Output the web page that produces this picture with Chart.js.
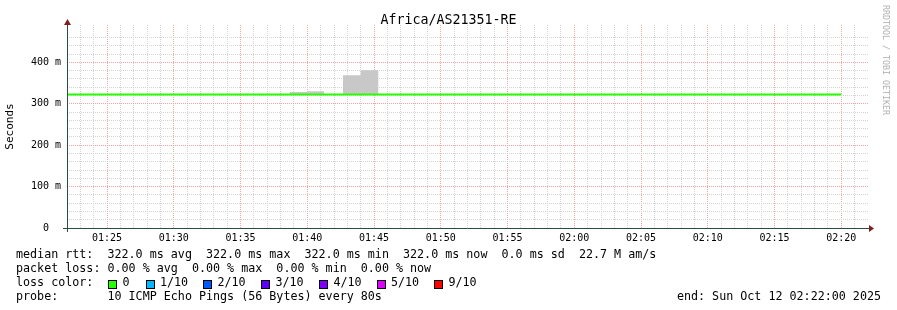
<!DOCTYPE html>
<html>
<head>
<meta charset="utf-8">
<script src="https://cdn.jsdelivr.net/npm/chart.js@4"></script>
<style>
  html, body { margin: 0; padding: 0; background: #fff; }
  #wrap { position: relative; width: 897px; height: 310px; overflow: hidden; background: #fff; }
  #c { position: absolute; left: 0; top: 0; }
  .t { position: absolute; font-family: "DejaVu Sans Mono", monospace; white-space: pre; color: #000; }
  .title { font-size: 13.3px; line-height: 16px; top: 12px; left: 0; width: 897px; text-align: center; }
  .foot { font-size: 11.7px; line-height: 14px; left: 16px; }
  .box { position: absolute; width: 7px; height: 7px; border: 1px solid #000; }
  .wm { position: absolute; font-family: "DejaVu Sans Mono", monospace; font-size: 8.3px; line-height: 10px; color: #b0b0b0;
        left: 886px; top: 60px; white-space: pre; transform: translate(-50%, -50%) rotate(90deg); }
</style>
</head>
<body>
<div id="wrap">
  <canvas id="c" width="897" height="310"></canvas>
  <div class="t title">Africa/AS21351-RE</div>
  <div class="wm">RRDTOOL / TOBI OETIKER</div>
  <div class="t foot" style="top:247px">median rtt:  322.0 ms avg  322.0 ms max  322.0 ms min  322.0 ms now  0.0 ms sd  22.7 M am/s</div>
  <div class="t foot" style="top:261px">packet loss: 0.00 % avg  0.00 % max  0.00 % min  0.00 % now</div>
  <div class="t foot" style="top:275px">loss color:</div>
  <div id="losslegend"></div>
  <div class="t foot" style="top:289px">probe:       10 ICMP Echo Pings (56 Bytes) every 80s</div>
  <div class="t foot" style="top:289px; left:auto; right:16px">end: Sun Oct 12 02:22:00 2025</div>
</div>
<script>
// ---- data ----
const axisStart = '01:22:00';
const axisEnd = '02:22:00';
const medianTimes = ['01:22:00', '02:20:00'];
const medianValues = [322, 322];           // ms
const smokeTimes = ['01:38:40', '01:40:00', '01:41:15', null, '01:42:40', '01:44:00', '01:45:20'];
const smokeTops = [328, 330, 330, null, 369, 381, 381];  // ms
const smokeBase = 322;                      // ms
const yTickLabels = ['0  ', '100 m', '200 m', '300 m', '400 m'];
const lossLabels = ['0', '1/10', '2/10', '3/10', '4/10', '5/10', '9/10'];
const lossColors = ['#26ff00', '#00b8ff', '#0059ff', '#5e00ff', '#7e00ff', '#dd00ff', '#ff0000'];

// ---- helpers ----
function toSec(t) { const p = t.split(':').map(Number); return p[0] * 3600 + p[1] * 60 + p[2]; }
const t0 = toSec(axisStart);
function toMin(t) { return (toSec(t) - t0) / 60; }
function fmt(m) {
  const s = t0 + Math.round(m * 60);
  const h = Math.floor(s / 3600), mi = Math.floor((s % 3600) / 60);
  return String(h).padStart(2, '0') + ':' + String(mi).padStart(2, '0');
}

// loss legend (HTML)
const boxX = [108, 145.5, 203, 261, 319, 376.5, 434];
const ll = document.getElementById('losslegend');
lossLabels.forEach((lab, i) => {
  const b = document.createElement('div');
  b.className = 'box';
  b.style.left = boxX[i] + 'px'; b.style.top = '280px'; b.style.background = lossColors[i];
  ll.appendChild(b);
  const tx = document.createElement('div');
  tx.className = 't foot';
  tx.style.left = (boxX[i] + 14.5) + 'px'; tx.style.top = '275px';
  tx.textContent = lab;
  ll.appendChild(tx);
});

const medianData = medianTimes.map((t, i) => ({ x: toMin(t), y: medianValues[i] }));
const smokeData = smokeTimes.map((t, i) => t === null ? { x: NaN, y: null } : { x: toMin(t), y: smokeTops[i] });

const MINOR = 'rgb(212,212,212)';
const MAJOR = 'rgb(242,165,165)';
const AXIS = '#2C4D43';
const ARROW = '#7F1F1F';

const axesPlugin = {
  id: 'rrdAxes',
  afterDatasetsDraw(chart) {
    const { ctx, chartArea: a } = chart;
    ctx.save();
    ctx.strokeStyle = AXIS; ctx.lineWidth = 1;
    ctx.beginPath();
    ctx.moveTo(a.left - 4, a.bottom + 0.5); ctx.lineTo(a.right + 4, a.bottom + 0.5);
    ctx.moveTo(a.left + 0.5, a.bottom + 4); ctx.lineTo(a.left + 0.5, a.top - 4);
    ctx.stroke();
    ctx.fillStyle = ARROW;
    ctx.beginPath();
    ctx.moveTo(a.right + 1, a.bottom - 3); ctx.lineTo(a.right + 1, a.bottom + 4); ctx.lineTo(a.right + 6, a.bottom + 0.5); ctx.closePath(); ctx.fill();
    ctx.beginPath();
    ctx.moveTo(a.left - 3, a.top); ctx.lineTo(a.left + 4, a.top); ctx.lineTo(a.left + 0.5, a.top - 6); ctx.closePath(); ctx.fill();
    ctx.restore();
  }
};

new Chart(document.getElementById('c'), {
  type: 'line',
  data: {
    datasets: [
      { label: 'median', data: medianData, borderColor: '#26ff00', borderWidth: 2, pointRadius: 0, fill: false, tension: 0 },
      { label: 'smoke', data: smokeData, stepped: 'before', borderWidth: 0, borderColor: 'rgba(0,0,0,0)', pointRadius: 0,
        backgroundColor: '#c8c8c8', fill: { value: smokeBase }, spanGaps: false }
    ]
  },
  options: {
    responsive: false,
    animation: false,
    events: [],
    layout: { padding: { left: 0, top: 25, right: 29, bottom: 0 } },
    plugins: { legend: { display: false }, tooltip: { enabled: false }, title: { display: false } },
    scales: {
      x: {
        type: 'linear', min: toMin(axisStart), max: toMin(axisEnd),
        afterFit(s) { s.height = 82; },
        ticks: {
          stepSize: 1, autoSkip: false, maxRotation: 0, padding: 4,
          font: { family: 'DejaVu Sans Mono', size: 10 }, color: '#000',
          callback(v) { const r = Math.round(v); return (Math.abs(v - r) < 1e-6 && (r - 3) % 5 === 0) ? fmt(r) : ''; }
        },
        grid: {
          drawTicks: false,
          color(ctx) { const v = Math.round(ctx.tick.value); if (v <= 0 || v >= 60) return 'rgba(0,0,0,0)'; return ((v - 3) % 5 === 0) ? MAJOR : MINOR; }
        },
        border: { display: false, dash: [1, 1] }
      },
      y: {
        type: 'linear', min: 0, max: 490,
        afterFit(s) { s.width = 67; },
        ticks: {
          stepSize: 20, autoSkip: false, padding: 6,
          font: { family: 'DejaVu Sans Mono', size: 10 }, color: '#000',
          callback(v) { return (v % 100 === 0) ? yTickLabels[v / 100] : ''; }
        },
        grid: {
          drawTicks: false,
          color(ctx) { const v = ctx.tick.value; if (v <= 0 || v % 20 !== 0) return 'rgba(0,0,0,0)'; return (v % 100 === 0) ? MAJOR : MINOR; }
        },
        border: { display: false, dash: [1, 1] },
        title: { display: true, text: 'Seconds', font: { family: 'DejaVu Sans Mono', size: 11 }, color: '#000', padding: { top: 4, bottom: 0 } }
      }
    }
  },
  plugins: [axesPlugin]
});
</script>
</body>
</html>
